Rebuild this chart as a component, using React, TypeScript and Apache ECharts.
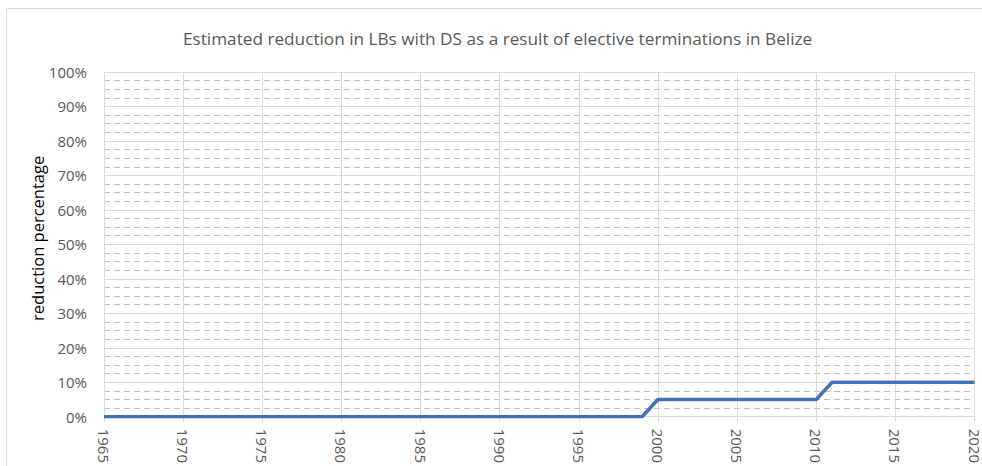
import React, { useEffect, useRef } from "react";
import * as echarts from "echarts";

const years: number[] = [];
for (let y = 1965; y <= 2020; y++) years.push(y);
// reduction percentage per year (0 until 1999, 5% 2000-2010, 10% 2011-2020)
const before2000: number[] = new Array(35).fill(0); // 1965..1999
const y2000to2010: number[] = new Array(11).fill(5);
const y2011to2020: number[] = new Array(10).fill(10);
const reduction: number[] = [...before2000, ...y2000to2010, ...y2011to2020];

const title = "Estimated reduction in LBs with DS as a result of elective terminations in Belize";
const yAxisName = "reduction percentage";

export default function App() {
  const ref = useRef<HTMLDivElement>(null);
  useEffect(() => {
    document.body.style.margin = "0";
    const chart = echarts.init(ref.current!, null, { renderer: "svg" });
    const font = "Open Sans";
    chart.setOption({
      animation: false,
      backgroundColor: "#ffffff",
      graphic: [
        {
          type: "rect",
          shape: { x: 6.5, y: 8.5, width: 1000, height: 500 },
          style: { fill: "none", stroke: "#d9d9d9", lineWidth: 1 },
          silent: true,
        },
      ],
      title: {
        text: title,
        left: 178,
        top: 25,
        textStyle: { fontFamily: font, fontSize: 17.2, fontWeight: "normal", color: "#595959" },
      },
      grid: { left: 104, right: 7, top: 72, bottom: 49, containLabel: false },
      xAxis: {
        type: "value",
        min: 1965,
        max: 2020,
        interval: 5,
        axisLine: { show: true, lineStyle: { color: "#d9d9d9" } },
        axisTick: { show: true, length: 5, lineStyle: { color: "#d9d9d9" } },
        axisLabel: {
          rotate: -90,
          margin: 12,
          fontFamily: font,
          fontSize: 15,
          color: "#595959",
          formatter: (v: number) => String(v),
        },
        splitLine: { show: true, lineStyle: { color: "#d9d9d9", width: 1 } },
      },
      yAxis: {
        type: "value",
        min: 0,
        max: 100,
        interval: 10,
        name: yAxisName,
        nameLocation: "middle",
        nameGap: 58,
        nameMoveOverlap: false,
        nameTextStyle: { fontFamily: font, fontSize: 16.5, color: "#000000", padding: [0, 0, 0, 12] },
        axisLine: { show: false },
        axisTick: { show: false },
        axisLabel: {
          fontFamily: font,
          fontSize: 15,
          color: "#595959",
          margin: 17,
          formatter: (v: number) => v + "%",
        },
        splitLine: { show: true, lineStyle: { color: "#d9d9d9", width: 1 } },
        minorTick: { show: false, splitNumber: 4 },
        minorSplitLine: { show: true, lineStyle: { color: "#bfbfbf", type: [6, 4], width: 1 } },
      },
      series: [
        {
          type: "line",
          data: years.map((y, i) => [y, reduction[i]]),
          showSymbol: false,
          lineStyle: { color: "#4372b8", width: 3.5 },
          itemStyle: { color: "#4372b8" },
        },
      ],
    });
    return () => chart.dispose();
  }, []);
  return <div ref={ref} style={{ width: 982, height: 466 }} />;
}
